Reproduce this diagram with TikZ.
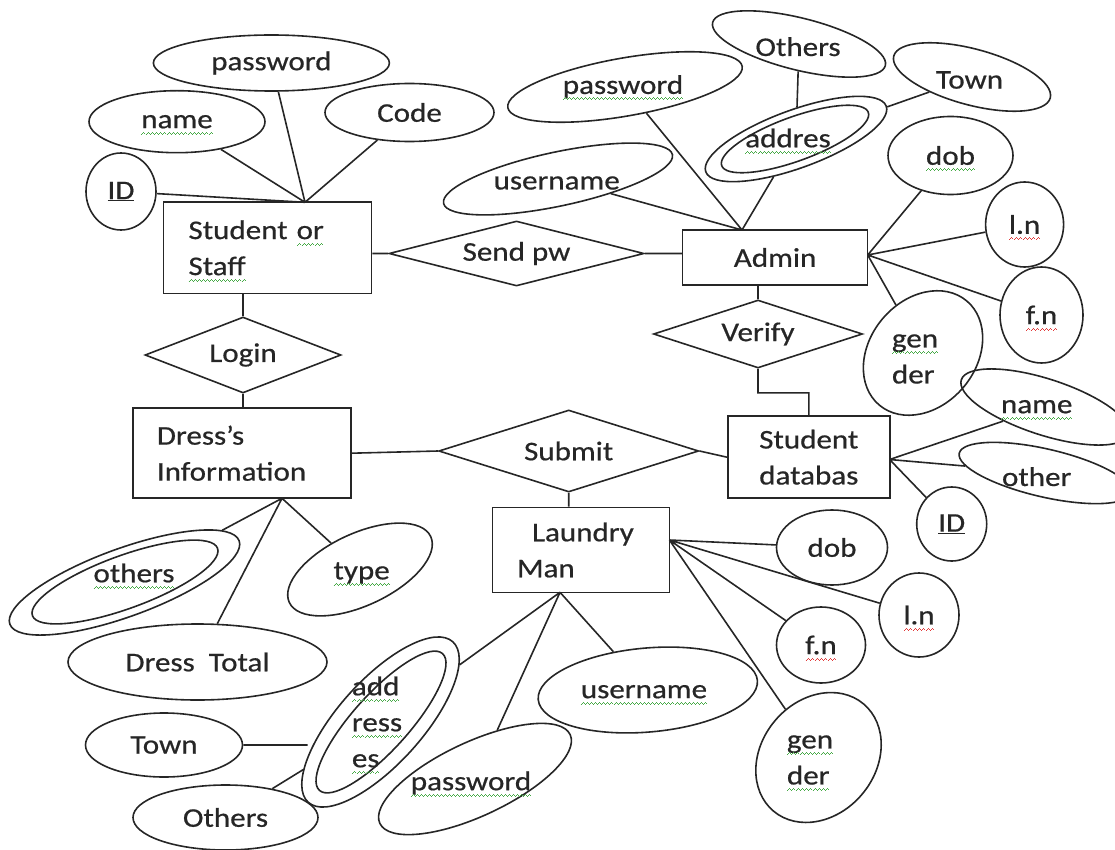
\documentclass[tikz,border=0pt]{standalone}
\usepackage{fontspec}
\setmainfont{Carlito}[FakeStretch=1.15,FakeBold=0.6]
\usetikzlibrary{shapes,calc}

\definecolor{sqgreen}{RGB}{70,170,70}
\definecolor{sqred}{RGB}{225,60,60}
\newcommand\wavebit{\rule[-6.5pt]{1pt}{0.9pt}\rule[-5.5pt]{1pt}{0.9pt}\rule[-4.5pt]{1pt}{0.9pt}\rule[-5.5pt]{1pt}{0.9pt}}
\newcommand\sqline[2]{\leavevmode\setbox0\hbox{#2}\rlap{\copy0}\raisebox{0pt}[0pt][0pt]{\hbox to\wd0{\color{#1}\xleaders\hbox{\wavebit}\hfil}}}
\newcommand\gsq[1]{\sqline{sqgreen}{#1}}
\newcommand\rsq[1]{\sqline{sqred}{#1}}

\begin{document}
\begin{tikzpicture}[x=1pt,y=-1pt,line width=1.6pt,color=black!85,
	every node/.style={font=\fontsize{27}{36}\selectfont,text=black!85},
	ent/.style={draw,rectangle,inner sep=0pt},
	rel/.style={draw,diamond,aspect=4,inner sep=0pt},
	attr/.style={draw,ellipse,inner sep=0pt}]

\useasboundingbox (0,0) rectangle (1115,850);
\clip (0,0) rectangle (1115,850);

% entities and relations
\node[ent,minimum width=208,minimum height=91,text width=158,align=left] (ss) at (267.5,247.8) {Student \gsq{or}\\\gsq{Staff}};
\node[ent,minimum width=185,minimum height=55] (ad) at (775.1,257.5) {Admin};
\node[ent,minimum width=218,minimum height=90,text width=170,align=left] (dr) at (241.9,453.2) {Dress’s\\Information};
\node[ent,minimum width=177,minimum height=85,text width=128,align=left] (lm) at (581,550) {\hspace*{15pt}Laundry\\Man};
\node[ent,minimum width=162,minimum height=82,text width=130,align=center] (sd) at (808.8,457.2) {Student\\databas};
\node[rel,minimum width=196,minimum height=76] (lg) at (243,355) {Login};
\node[rel,minimum width=255,minimum height=65] (sp) at (516.5,253.5) {Send pw};
\node[rel,minimum width=209,minimum height=68] (vf) at (758,334) {Verify};
\node[rel,minimum width=260,minimum height=82] (sb) at (568.7,451) {Submit};

% student or staff
\node[attr,minimum width=70,minimum height=77] (ssId) at (121,191.5) {\underline{ID}};
\node[attr,minimum width=176,minimum height=62] (ssName) at (177,121.7) {\gsq{name}};
\node[attr,minimum width=236,minimum height=56] (ssPw) at (271.4,63) {password};
\node[attr,minimum width=169,minimum height=58] (ssCode) at (409.5,112.5) {Code};

% admin
\node[attr,rotate=12,minimum width=234,minimum height=54] (adUser) at (558,179) {};
\node (adUserT) at (556.7,183) {username};
\node[attr,rotate=10,minimum width=238,minimum height=58] (adPw) at (625,87) {};
\node (adPwT) at (623,86.7) {\gsq{password}};
\node[attr,rotate=20,minimum width=192,minimum height=58] (adAddr) at (796,139) {};
\node[attr,rotate=20,minimum width=156,minimum height=44] (adAddrIn) at (795,139) {};
\node (adAddrT) at (788,138) {\gsq{addres}};
\node[attr,rotate=-14,minimum width=178,minimum height=52] (adOth) at (799,44) {};
\node (adOthT) at (798,46.7) {Others};
\node[attr,rotate=-15,minimum width=162,minimum height=56] (adTown) at (972,77) {};
\node (adTownT) at (969.5,80) {Town};
\node[attr,minimum width=125,minimum height=78] (adDob) at (950.5,155.5) {\gsq{dob}};
\node[attr,minimum width=78,minimum height=85] (adLn) at (1024.6,224.5) {\rsq{l.n}};
\node[attr,minimum width=83,minimum height=96] (adFn) at (1041.5,315) {\rsq{f.n}};
\node[attr,rotate=50,minimum width=136,minimum height=106] (adGen) at (923,353) {};
\node[align=left] (adGenT) at (915,359) {\gsq{gen}\\der};

% student database
\node[attr,rotate=-18,minimum width=176,minimum height=56] (sdName) at (1045,407) {};
\node (sdNameT) at (1036.7,406.7) {\gsq{name}};
\node[attr,rotate=-13,minimum width=176,minimum height=48] (sdOth) at (1045,473) {};
\node (sdOthT) at (1036.7,476.7) {other};
\node[attr,minimum width=70,minimum height=74] (sdId) at (951.7,524) {\underline{ID}};

% dress information
\node[attr,rotate=20,minimum width=244,minimum height=68] (drOth) at (124.5,582.5) {};
\node[attr,rotate=20,minimum width=197,minimum height=53] (drOthIn) at (125,582) {};
\node (drOthT) at (134,573) {\gsq{others}};
\node[attr,rotate=25,minimum width=156,minimum height=72] (drType) at (360,569.5) {};
\node (drTypeT) at (361.6,573) {\gsq{type}};
\node[attr,minimum width=259,minimum height=76] (drTot) at (197.5,662) {Dress\ \ Total};

% laundry man
\node[attr,minimum width=111,minimum height=75] (lmDob) at (832,547.5) {dob};
\node[attr,minimum width=80,minimum height=84] (lmLn) at (919,615) {\rsq{l.n}};
\node[attr,minimum width=89,minimum height=76] (lmFn) at (821,645) {\rsq{f.n}};
\node[attr,rotate=50,minimum width=140,minimum height=114] (lmGen) at (818.5,757.5) {};
\node[align=left] (lmGenT) at (810,760) {\gsq{gen}\\\gsq{der}};
\node[attr,rotate=5,minimum width=220,minimum height=84] (lmUser) at (647.8,690) {};
\node (lmUserT) at (644,691.7) {\gsq{username}};
\node[attr,rotate=25,minimum width=210,minimum height=74] (lmPw) at (475,779) {};
\node (lmPwT) at (471,783) {\gsq{password}};
\node[attr,rotate=48,minimum width=216,minimum height=84] (lmAddr) at (380.5,722) {};
\node[attr,rotate=48,minimum width=184,minimum height=56] (lmAddrIn) at (381,722) {};
\node[align=left] (lmAddrT) at (377,722) {\gsq{add}\\\gsq{ress}\\\gsq{es}};
\node[attr,minimum width=157,minimum height=64] (lmTown) at (164,745) {Town};
\node[attr,minimum width=185,minimum height=65] (lmOth) at (225.5,817.5) {Others};

\coordinate (ssT) at (305,202.3);
\coordinate (adT) at (742,230);
\coordinate (adR) at (867.7,255);
\coordinate (drB) at (282,498.3);
\coordinate (lmR) at (669.4,540);
\coordinate (lmB) at (560,592.3);
\coordinate (sdR) at (889.6,459.5);

\draw	(ssT) -- (ssId)
	(ssT) -- (ssName)
	(ssT) -- (ssPw)
	(ssT) -- (ssCode)
	(sp.west) -- (sp.west -| ss.east)
	(sp.east) -- (sp.east -| ad.west)
	(lg.north) -- (lg.north |- ss.south)
	(lg.south) -- (lg.south |- dr.north)
	(adT) -- (adUser)
	(adT) -- (adPw)
	(adT) -- (adAddr)
	(adAddr) -- (adOth)
	(adAddr) -- (adTown)
	(adR) -- (adDob)
	(adR) -- (adLn)
	(adR) -- (adFn)
	(adR) -- (adGen)
	(vf.north) -- (vf.north |- ad.south)
	(vf.south) -- ++(0,24) -| (sd.north)
	(dr.east) -- (sb.west)
	(sb.east) -- (sd.west)
	(sb.south) -- (sb.south |- lm.north)
	(sdR) -- (sdName)
	(sdR) -- (sdOth)
	(sdR) -- (sdId)
	(drB) -- (drOth)
	(drB) -- (drTot)
	(drB) -- (drType)
	(lmR) -- (lmDob)
	(lmR) -- (lmLn)
	(lmR) -- (lmFn)
	(lmR) -- (lmGen)
	(lmB) -- (lmAddr)
	(lmB) -- (lmPw)
	(lmB) -- (lmUser)
	(lmTown.east) -- (lmTown.east -| lmAddr.west)
	(lmAddr) -- (lmOth);

\end{tikzpicture}
\end{document}
